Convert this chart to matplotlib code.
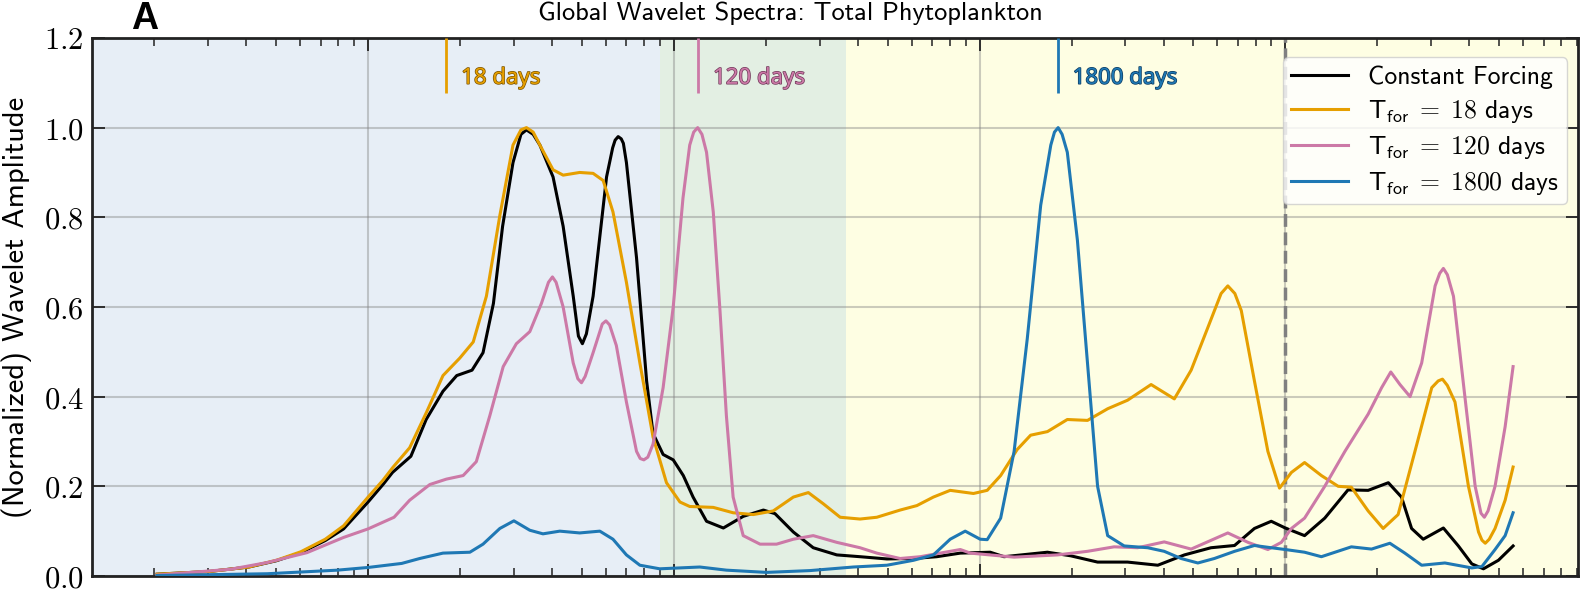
import numpy as np
import matplotlib
matplotlib.use('Agg')
import matplotlib.pyplot as plt
import matplotlib.patheffects as pe
from matplotlib.ticker import FormatStrFormatter, MultipleLocator

plt.rcParams['mathtext.fontset'] = 'cm'

# period given as log10(days), amplitude normalized
logp_const = [0.31, 0.48, 0.61, 0.70, 0.78, 0.86, 0.92, 1.0, 1.05, 1.08, 1.14, 1.19, 1.245, 1.29, 1.34,
              1.376, 1.41, 1.44, 1.474, 1.50, 1.518, 1.54, 1.562, 1.605, 1.638, 1.671, 1.688, 1.701, 1.714,
              1.736, 1.78, 1.80, 1.808, 1.818, 1.828, 1.835, 1.845, 1.878, 1.911, 1.932, 1.965, 1.998,
              2.031, 2.063, 2.107, 2.162, 2.227, 2.293, 2.331, 2.391, 2.456, 2.533, 2.609, 2.697, 2.784,
              2.860, 2.937, 3.035, 3.080, 3.222, 3.298, 3.386, 3.484, 3.583, 3.670, 3.757, 3.834, 3.899,
              3.954, 4.0, 4.063, 4.129, 4.205, 4.271, 4.337, 4.380, 4.413, 4.451, 4.517, 4.566, 4.610,
              4.648, 4.697, 4.745]
amp_const = [0.004, 0.010, 0.020, 0.034, 0.052, 0.079, 0.105, 0.165, 0.205, 0.231, 0.267, 0.349, 0.412,
             0.447, 0.459, 0.498, 0.608, 0.780, 0.922, 0.985, 0.995, 0.985, 0.961, 0.890, 0.780, 0.624,
             0.535, 0.518, 0.540, 0.624, 0.890, 0.955, 0.972, 0.980, 0.975, 0.965, 0.922, 0.710, 0.435,
             0.318, 0.271, 0.259, 0.224, 0.176, 0.122, 0.107, 0.133, 0.147, 0.139, 0.098, 0.063, 0.047,
             0.043, 0.038, 0.039, 0.043, 0.051, 0.053, 0.043, 0.053, 0.045, 0.031, 0.031, 0.024, 0.047,
             0.063, 0.068, 0.106, 0.122, 0.107, 0.090, 0.129, 0.192, 0.191, 0.208, 0.176, 0.106, 0.082,
             0.107, 0.067, 0.027, 0.016, 0.035, 0.067]

logp_18 = [0.31, 0.48, 0.61, 0.70, 0.78, 0.86, 0.92, 1.0, 1.048, 1.082, 1.136, 1.191, 1.245, 1.30, 1.344,
           1.387, 1.431, 1.474, 1.50, 1.518, 1.54, 1.562, 1.605, 1.638, 1.692, 1.736, 1.769, 1.801, 1.845,
           1.889, 1.932, 1.976, 2.020, 2.052, 2.129, 2.194, 2.260, 2.325, 2.391, 2.440, 2.489, 2.544,
           2.609, 2.664, 2.740, 2.795, 2.849, 2.904, 2.980, 3.025, 3.069, 3.123, 3.167, 3.222, 3.287,
           3.353, 3.419, 3.484, 3.561, 3.637, 3.692, 3.746, 3.79, 3.812, 3.835, 3.856, 3.899, 3.943,
           3.981, 4.020, 4.063, 4.118, 4.173, 4.216, 4.271, 4.320, 4.369, 4.424, 4.479, 4.50, 4.514,
           4.53, 4.555, 4.599, 4.632, 4.643, 4.654, 4.667, 4.686, 4.719, 4.745]
amp_18 = [0.004, 0.010, 0.020, 0.035, 0.054, 0.082, 0.112, 0.176, 0.213, 0.243, 0.286, 0.365, 0.447, 0.486,
          0.522, 0.624, 0.804, 0.961, 0.995, 1.0, 0.99, 0.961, 0.906, 0.894, 0.900, 0.898, 0.882, 0.812,
          0.655, 0.475, 0.310, 0.208, 0.165, 0.155, 0.153, 0.141, 0.137, 0.145, 0.176, 0.186, 0.161,
          0.131, 0.127, 0.131, 0.147, 0.157, 0.176, 0.191, 0.184, 0.191, 0.224, 0.282, 0.314, 0.322,
          0.349, 0.347, 0.373, 0.392, 0.427, 0.395, 0.459, 0.553, 0.630, 0.647, 0.630, 0.592, 0.435,
          0.278, 0.196, 0.231, 0.253, 0.224, 0.200, 0.198, 0.145, 0.106, 0.137, 0.278, 0.420, 0.435,
          0.439, 0.425, 0.388, 0.200, 0.098, 0.080, 0.073, 0.082, 0.106, 0.169, 0.243]

logp_120 = [0.31, 0.55, 0.67, 0.80, 0.92, 1.0, 1.085, 1.136, 1.202, 1.256, 1.311, 1.354, 1.398, 1.442,
            1.485, 1.529, 1.567, 1.59, 1.603, 1.615, 1.638, 1.671, 1.686, 1.698, 1.71, 1.736, 1.766,
            1.778, 1.79, 1.812, 1.845, 1.878, 1.89, 1.902, 1.915, 1.932, 1.965, 1.998, 2.030, 2.052,
            2.065, 2.078, 2.092, 2.107, 2.129, 2.151, 2.172, 2.194, 2.227, 2.282, 2.336, 2.391, 2.456,
            2.533, 2.609, 2.664, 2.740, 2.806, 2.871, 2.937, 2.970, 3.113, 3.255, 3.353, 3.440, 3.517,
            3.604, 3.692, 3.812, 3.878, 3.943, 3.987, 4.020, 4.063, 4.129, 4.195, 4.271, 4.315, 4.345,
            4.375, 4.408, 4.446, 4.490, 4.505, 4.517, 4.53, 4.550, 4.588, 4.621, 4.64, 4.651, 4.663,
            4.686, 4.719, 4.745]
amp_120 = [0.002, 0.015, 0.030, 0.052, 0.086, 0.105, 0.131, 0.169, 0.204, 0.216, 0.224, 0.255, 0.357,
           0.467, 0.518, 0.545, 0.608, 0.655, 0.667, 0.655, 0.600, 0.475, 0.440, 0.431, 0.445, 0.498,
           0.562, 0.569, 0.560, 0.514, 0.388, 0.278, 0.262, 0.259, 0.265, 0.294, 0.420, 0.600, 0.843,
           0.961, 0.990, 1.0, 0.985, 0.945, 0.812, 0.592, 0.357, 0.176, 0.090, 0.071, 0.071, 0.082,
           0.090, 0.075, 0.063, 0.051, 0.039, 0.043, 0.051, 0.059, 0.051, 0.042, 0.047, 0.055, 0.065,
           0.063, 0.076, 0.060, 0.096, 0.075, 0.059, 0.075, 0.106, 0.129, 0.2, 0.278, 0.361, 0.420,
           0.455, 0.427, 0.4, 0.475, 0.647, 0.675, 0.686, 0.672, 0.624, 0.396, 0.2, 0.140, 0.131,
           0.145, 0.2, 0.333, 0.467]

logp_1800 = [0.31, 0.67, 0.90, 1.0, 1.11, 1.169, 1.245, 1.333, 1.376, 1.431, 1.477, 1.529, 1.572, 1.627,
             1.692, 1.758, 1.801, 1.845, 1.889, 1.954, 2.085, 2.172, 2.303, 2.445, 2.587, 2.697, 2.784,
             2.849, 2.904, 2.953, 3.002, 3.025, 3.069, 3.113, 3.156, 3.200, 3.233, 3.245, 3.257, 3.270,
             3.287, 3.320, 3.353, 3.386, 3.419, 3.473, 3.550, 3.604, 3.659, 3.714, 3.768, 3.834, 3.899,
             3.954, 4.0, 4.063, 4.118, 4.216, 4.282, 4.342, 4.391, 4.446, 4.522, 4.610, 4.643, 4.686,
             4.719, 4.745]
amp_1800 = [0.001, 0.005, 0.013, 0.019, 0.028, 0.039, 0.051, 0.053, 0.071, 0.106, 0.123, 0.102, 0.094,
            0.100, 0.096, 0.100, 0.082, 0.047, 0.024, 0.016, 0.020, 0.013, 0.008, 0.012, 0.020, 0.024,
            0.035, 0.047, 0.082, 0.100, 0.082, 0.081, 0.129, 0.278, 0.529, 0.827, 0.961, 0.990, 1.0,
            0.985, 0.945, 0.749, 0.475, 0.200, 0.090, 0.067, 0.063, 0.055, 0.039, 0.029, 0.039, 0.055,
            0.068, 0.063, 0.059, 0.053, 0.043, 0.065, 0.060, 0.073, 0.051, 0.024, 0.029, 0.018, 0.021,
            0.059, 0.090, 0.141]

labels = ['Constant Forcing', r'T$_{\mathsf{for}}\;=\;18$ days', r'T$_{\mathsf{for}}\;=\;120$ days',
          r'T$_{\mathsf{for}}\;=\;1800$ days']
colors = ['black', '#E69F00', '#CC79A7', '#1f78b4']
dark_colors = ['black', '#7a5200', '#6e3858', '#0c3a5e']
forcing_periods = [18, 120, 1800]

# shaded bands: <90 d, 90-365 d, >365 d
band_edges = [90, 365]
band_colors = ['#e7eef6', '#e3efe3', '#fefee3']

xmin, xmax = 1.25, 90600

fig = plt.figure(figsize=(15.8, 5.93), dpi=100)
ax = fig.add_axes([0.0582, 0.0287, 0.9405, 0.9073])
ax.set_xscale('log')

ax.axvspan(xmin, band_edges[0], color=band_colors[0], zorder=0, lw=0)
ax.axvspan(band_edges[0], band_edges[1], color=band_colors[1], zorder=0, lw=0)
ax.axvspan(band_edges[1], xmax, color=band_colors[2], zorder=0, lw=0)

series = [(logp_const, amp_const), (logp_18, amp_18), (logp_120, amp_120), (logp_1800, amp_1800)]
for (lp, a), c, lab in zip(series, colors, labels):
    ax.plot(10 ** np.array(lp), a, color=c, lw=2.2, label=lab, zorder=3, solid_joinstyle='round')

ax.axvline(1e4, color='gray', ls='--', lw=2.5, zorder=2)

for T, c, dc in zip(forcing_periods, colors[1:], dark_colors[1:]):
    ax.vlines(T, 1.078, 1.2, color=c, lw=2, zorder=3)
    ax.text(T * 1.12, 1.11, f'{T} days', color=c, fontsize=16, va='center',
            family=['Liberation Sans Narrow', 'Noto Sans', 'DejaVu Sans'], fontstretch='condensed',
            path_effects=[pe.withStroke(linewidth=1.0, foreground=dc)])

ax.set_xlim(xmin, xmax)
ax.set_ylim(0, 1.2)
ax.yaxis.set_major_locator(MultipleLocator(0.2))
ax.yaxis.set_major_formatter(FormatStrFormatter(r'$%.1f$'))
ax.set_axisbelow(True)
ax.grid(True, which='major', color='gray', alpha=0.4, lw=1.5)

ax.tick_params(which='both', direction='in', top=True, right=True, labelbottom=False,
               color='#222222')
ax.tick_params(which='major', length=9, width=1.3, labelsize=22, pad=6)
ax.tick_params(which='minor', length=6, width=1.1)
for s in ax.spines.values():
    s.set_linewidth(2)
    s.set_color('#222222')

ax.set_ylabel('(Normalized) Wavelet Amplitude', family='cmss10', fontsize=22, labelpad=8)

ax.legend(loc='upper right', bbox_to_anchor=(0.9926, 0.9638), borderaxespad=0,
          prop={'family': 'cmss10', 'size': 18.5}, handlelength=2.2, handletextpad=0.8,
          labelspacing=0.35, borderpad=0.3, framealpha=0.8, edgecolor='#cccccc', fancybox=True)

fig.suptitle('Global Wavelet Spectra: Total Phytoplankton', family='cmss10', fontsize=19,
             x=0.5, y=0.998, va='top')
fig.text(131 / 1580, 1 - 29 / 593, 'A', family='Liberation Sans', fontweight='bold', fontsize=27,
         va='baseline')

fig.savefig('out.png', dpi=100)
